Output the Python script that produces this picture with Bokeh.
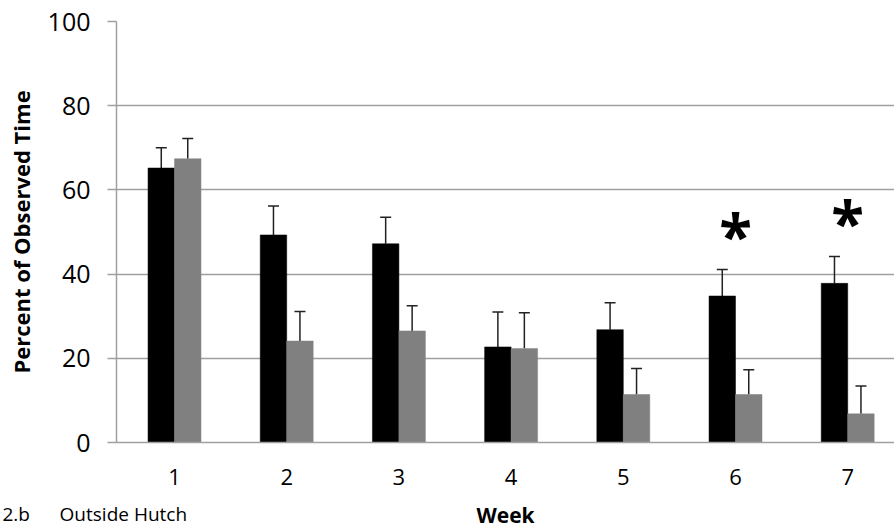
from bokeh.plotting import figure
from bokeh.models import ColumnDataSource, Range1d, FixedTicker, Whisker, TeeHead, Title
from bokeh.transform import dodge
from bokeh.core.properties import value
from bokeh.embed import file_html
from bokeh.resources import INLINE

# ---- data ----
weeks = [1, 2, 3, 4, 5, 6, 7]
black_mean = [65.2, 49.3, 47.2, 22.7, 26.8, 34.8, 37.8]
black_err = [4.8, 6.9, 6.3, 8.3, 6.4, 6.3, 6.4]
gray_mean = [67.4, 24.1, 26.5, 22.3, 11.4, 11.4, 6.8]
gray_err = [4.8, 7.0, 6.0, 8.5, 6.2, 5.9, 6.6]
sig_weeks = [6, 7]
y_ticks = [0, 20, 40, 60, 80, 100]

# ---- style ----
GRID = "#A0A0A0"
FONT = "Open Sans"
BAR_W = 0.236
OFF = BAR_W / 2

src = ColumnDataSource(dict(
    week=weeks,
    black=black_mean,
    black_hi=[m + e for m, e in zip(black_mean, black_err)],
    gray=gray_mean,
    gray_hi=[m + e for m, e in zip(gray_mean, gray_err)],
))

x_start, x_end = 0.483, 7.417
p = figure(width=894, height=531, output_backend="svg", toolbar_location=None,
           x_range=Range1d(x_start, x_end), y_range=Range1d(0, 100),
           min_border_left=116, min_border_right=0, min_border_top=21,
           min_border_bottom=89)
p.outline_line_color = None
p.background_fill_color = "white"
p.border_fill_color = "white"

p.vbar(x=dodge("week", -OFF, range=p.x_range), top="black", width=BAR_W,
       bottom=0, source=src, fill_color="#000000", line_color="#000000", line_width=0.5)
p.vbar(x=dodge("week", OFF, range=p.x_range), top="gray", width=BAR_W,
       bottom=0, source=src, fill_color="#808080", line_color="#808080", line_width=0.5)

for col, hi, off in (("black", "black_hi", -OFF), ("gray", "gray_hi", OFF)):
    w = Whisker(base=dodge("week", off, range=p.x_range), lower=col, upper=hi,
                source=src, dimension="height", line_color="#222222", line_width=1.5,
                lower_head=None,
                upper_head=TeeHead(size=11, line_color="#222222", line_width=1.5))
    p.add_layout(w)

# significance asterisks above the black error bars
star_y = [black_mean[w - 1] + black_err[w - 1] + 10 for w in sig_weeks]
p.text(x=sig_weeks, y=star_y, text=["*"] * len(sig_weeks),
       text_font=value(FONT), text_font_style="bold", text_font_size="60px",
       text_align="center", text_baseline="alphabetic", y_offset=8,
       text_color="#000000")

# axes
p.xaxis.ticker = FixedTicker(ticks=weeks)
p.yaxis.ticker = FixedTicker(ticks=y_ticks)
p.xaxis.minor_tick_line_color = None
p.yaxis.minor_tick_line_color = None
p.xaxis.major_tick_line_color = None
p.yaxis.major_tick_line_color = GRID
p.yaxis.major_tick_line_width = 1.5
p.yaxis.major_tick_in = 0
p.yaxis.major_tick_out = 9
p.axis.axis_line_color = GRID
p.axis.axis_line_width = 1.5

p.yaxis.major_label_text_font = FONT
p.yaxis.major_label_text_font_size = "25px"
p.yaxis.major_label_text_color = "#000000"
p.yaxis.major_label_standoff = 17
p.yaxis.axis_label = "Percent of Observed Time"
p.yaxis.axis_label_text_font = FONT
p.yaxis.axis_label_text_font_style = "bold"
p.yaxis.axis_label_text_font_size = "22px"
p.yaxis.axis_label_text_color = "#000000"
p.yaxis.axis_label_standoff = 9

p.xaxis.major_label_text_font = FONT
p.xaxis.major_label_text_font_size = "22px"
p.xaxis.major_label_text_color = "#000000"
p.xaxis.major_label_standoff = 20
p.xaxis.axis_label = "Week"
p.xaxis.axis_label_text_font = FONT
p.xaxis.axis_label_text_font_style = "bold"
p.xaxis.axis_label_text_font_size = "21px"
p.xaxis.axis_label_text_color = "#000000"
p.xaxis.axis_label_standoff = 13

p.xgrid.grid_line_color = None
p.ygrid.grid_line_color = GRID
p.ygrid.grid_line_width = 1.5

# panel caption at lower left, as a title in the bottom panel
cap = Title(text="2.b" + "\u00a0" * 6 + "Outside Hutch", align="left",
            vertical_align="top", offset=-114, standoff=-62,
            text_font=FONT, text_font_size="19px", text_font_style="normal",
            text_color="#000000")
p.add_layout(cap, "below")

open("out.html", "w").write(file_html(p, INLINE))
